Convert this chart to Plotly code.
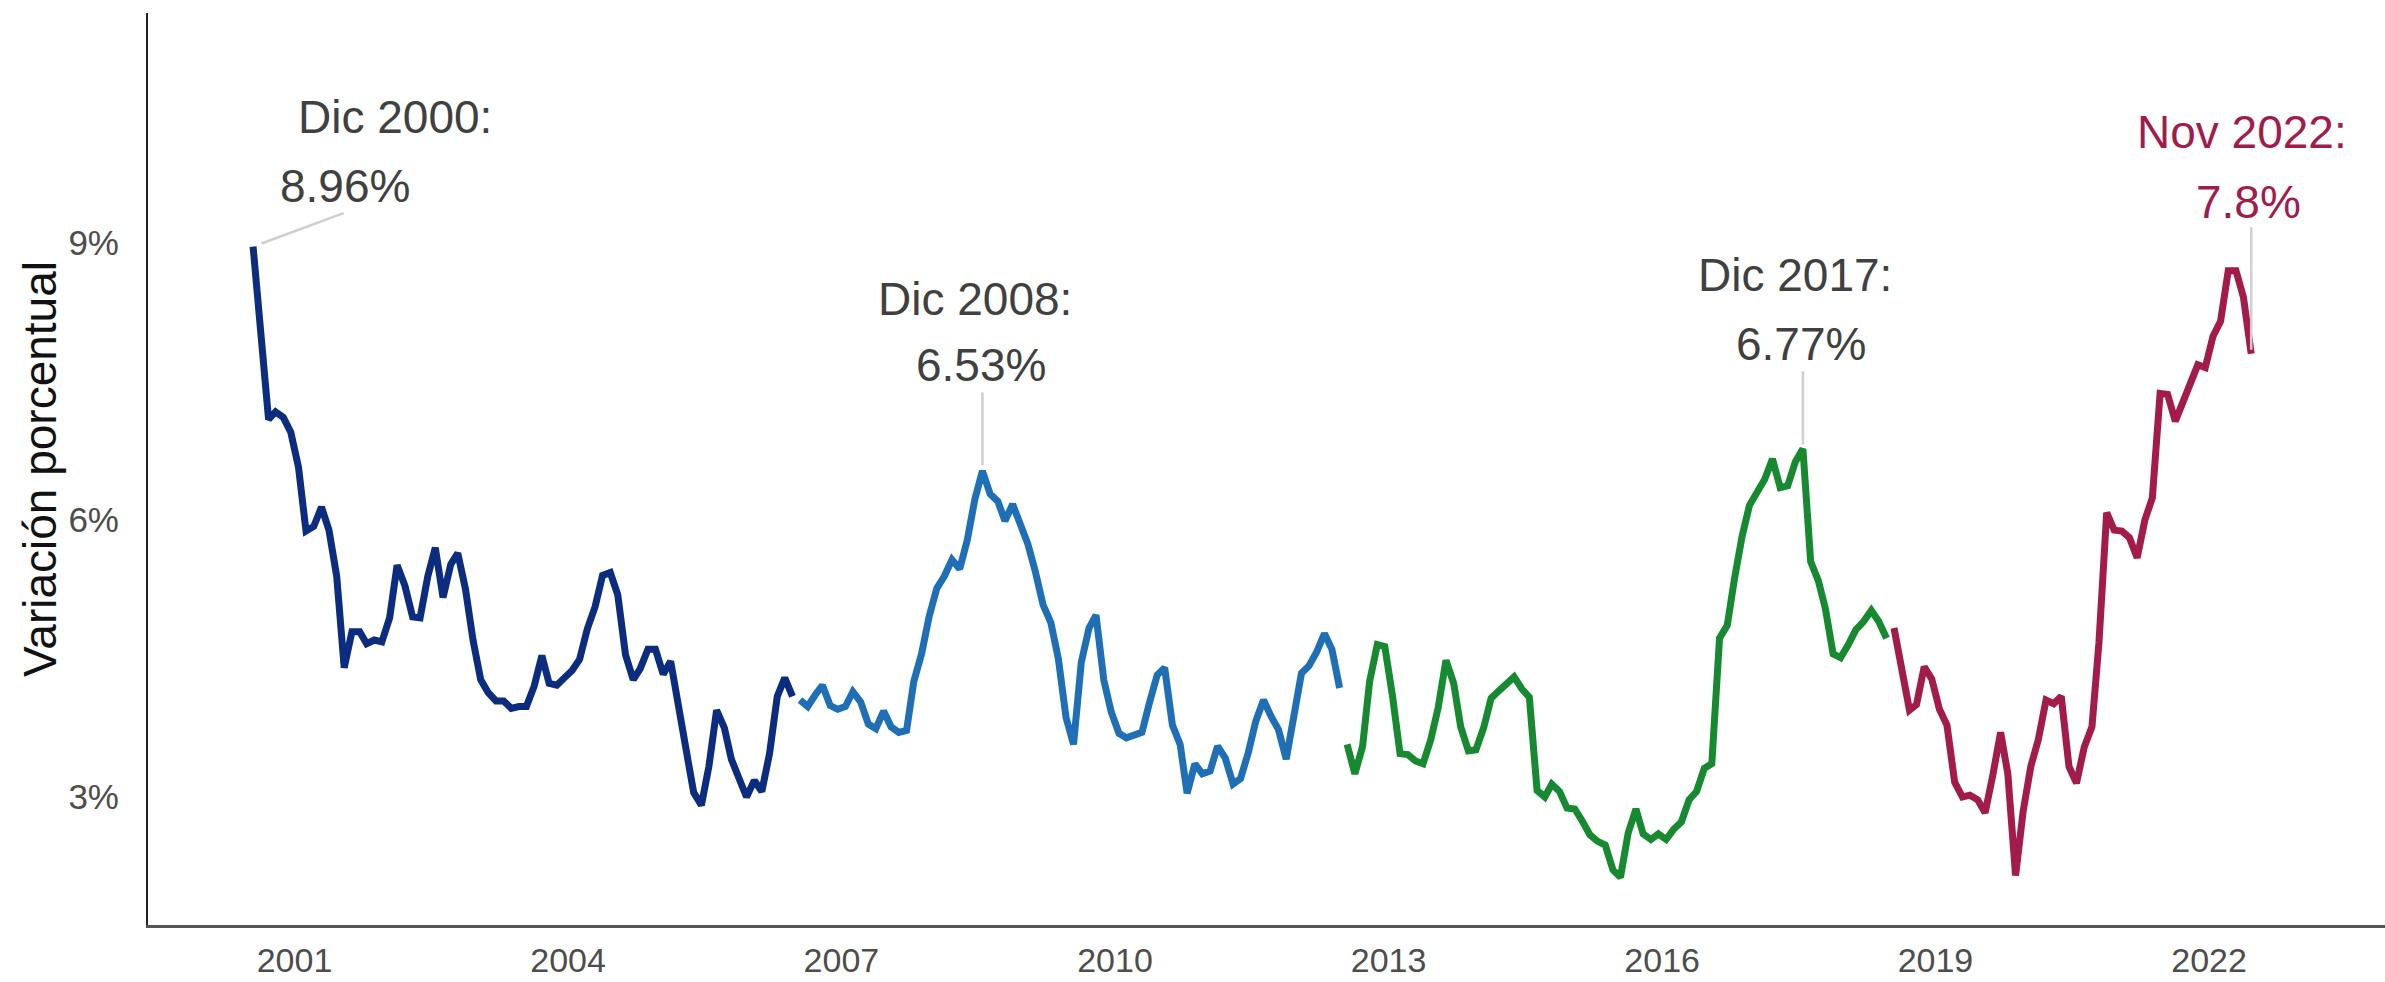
import plotly.graph_objects as go
import pandas as pd

# Annual inflation (INPC, % y/y), monthly, by administration
fox_start = "2000-12-01"
fox = [8.96,
       8.11, 7.09, 7.17, 7.11, 6.95, 6.57, 5.88, 5.93, 6.14, 5.89, 5.39, 4.40,
       4.79, 4.79, 4.66, 4.70, 4.68, 4.94, 5.51, 5.29, 4.95, 4.94, 5.39, 5.70,
       5.16, 5.52, 5.64, 5.25, 4.70, 4.27, 4.13, 4.04, 4.04, 3.96, 3.98, 3.98,
       4.20, 4.53, 4.23, 4.21, 4.29, 4.37, 4.49, 4.82, 5.06, 5.40, 5.43, 5.19,
       4.54, 4.27, 4.39, 4.60, 4.60, 4.33, 4.47, 3.95, 3.51, 3.05, 2.91, 3.33,
       3.94, 3.75, 3.41, 3.20, 3.00, 3.18, 3.06, 3.47, 4.09, 4.29, 4.09]

calderon_start = "2006-12-01"
calderon = [4.05,
            3.98, 4.11, 4.21, 3.99, 3.95, 3.98, 4.14, 4.03, 3.79, 3.74, 3.93, 3.76,
            3.70, 3.72, 4.25, 4.55, 4.95, 5.26, 5.39, 5.57, 5.47, 5.78, 6.23, 6.53,
            6.28, 6.20, 5.99, 6.17, 5.98, 5.74, 5.44, 5.08, 4.89, 4.50, 3.86, 3.57,
            4.46, 4.83, 4.97, 4.27, 3.92, 3.69, 3.64, 3.68, 3.70, 4.02, 4.32, 4.40,
            3.78, 3.57, 3.04, 3.36, 3.25, 3.28, 3.55, 3.42, 3.14, 3.20, 3.48, 3.82,
            4.05, 3.87, 3.73, 3.41, 3.85, 4.34, 4.42, 4.57, 4.77, 4.60, 4.18]

pena_start = "2012-12-01"
pena = [3.57,
        3.25, 3.55, 4.25, 4.65, 4.63, 4.09, 3.47, 3.46, 3.39, 3.36, 3.62, 3.97,
        4.48, 4.23, 3.76, 3.50, 3.51, 3.75, 4.07, 4.15, 4.22, 4.30, 4.17, 4.08,
        3.07, 3.00, 3.14, 3.06, 2.88, 2.87, 2.74, 2.59, 2.52, 2.48, 2.21, 2.13,
        2.61, 2.87, 2.60, 2.54, 2.60, 2.54, 2.65, 2.73, 2.97, 3.06, 3.31, 3.36,
        4.72, 4.86, 5.35, 5.82, 6.16, 6.31, 6.44, 6.66, 6.35, 6.37, 6.63, 6.77,
        5.55, 5.34, 5.04, 4.55, 4.51, 4.65, 4.81, 4.90, 5.02, 4.90, 4.72]

amlo_start = "2018-12-01"
amlo = [4.83,
        4.37, 3.94, 4.00, 4.41, 4.28, 3.95, 3.78, 3.16, 3.00, 3.02, 2.97, 2.83,
        3.24, 3.70, 3.25, 2.15, 2.84, 3.33, 3.62, 4.05, 4.01, 4.09, 3.33, 3.15,
        3.54, 3.76, 4.67, 6.08, 5.89, 5.88, 5.81, 5.59, 6.00, 6.24, 7.37, 7.36,
        7.07, 7.28, 7.45, 7.68, 7.65, 7.99, 8.15, 8.70, 8.70, 8.41, 7.80]

series_colors = ["#0b2c7f", "#1f6fb6", "#178a31", "#a31b4b"]

year_ticks = [2001, 2004, 2007, 2010, 2013, 2016, 2019, 2022]
y_ticks = [3, 6, 9]
y_tick_text = ["3%", "6%", "9%"]

# highlighted points: (date, value, line1, line2, color)
highlights = [
    ("2000-12-01", 8.96, "Dic 2000:", "8.96%", "#404040"),
    ("2008-12-01", 6.53, "Dic 2008:", "6.53%", "#404040"),
    ("2017-12-01", 6.77, "Dic 2017:", "6.77%", "#404040"),
    ("2022-11-01", 7.80, "Nov 2022:", "7.8%", "#a31b4b"),
]

FONT = "Liberation Sans, Arial, Helvetica, sans-serif"

fig = go.Figure()
for start, vals, col in zip([fox_start, calderon_start, pena_start, amlo_start],
                            [fox, calderon, pena, amlo], series_colors):
    dates = pd.date_range(start, periods=len(vals), freq="MS")
    fig.add_trace(go.Scatter(x=dates, y=vals, mode="lines",
                             line=dict(color=col, width=7),
                             showlegend=False, hoverinfo="skip"))

# label offsets in pixels (relative to point): line1 (dx, dy), line2 (dx, dy), leader (ax, ay, standoff)
label_offsets = [
    ((142, 130), (92, 61), (92, -34, 9)),
    ((-7, 172), (-1, 106), (0, -80, 6)),
    ((-8, 174), (-2, 105), (0, -79, 4)),
    ((-9, 222), (-3, 152), (0, -128, 4)),
]

annotations = []
for (d, v, t1, t2, c), (o1, o2, lead) in zip(highlights, label_offsets):
    annotations.append(dict(x=d, y=v, xref="x", yref="y", text="", showarrow=True,
                            arrowhead=0, arrowwidth=2.5, arrowcolor="#cfcfcf",
                            ax=lead[0], ay=lead[1], standoff=lead[2]))
    annotations.append(dict(x=d, y=v, xref="x", yref="y", text=t1, showarrow=False,
                            xanchor="center", yanchor="middle",
                            xshift=o1[0], yshift=o1[1],
                            font=dict(family=FONT, size=46, color=c)))
    annotations.append(dict(x=d, y=v, xref="x", yref="y", text=t2, showarrow=False,
                            xanchor="center", yanchor="middle",
                            xshift=o2[0], yshift=o2[1],
                            font=dict(family=FONT, size=46, color=c)))

annotations.append(dict(x=-0.0483, y=0.5, xref="paper", yref="paper",
                        text="Variación porcentual", textangle=-90, showarrow=False,
                        xanchor="center", yanchor="middle",
                        font=dict(family=FONT, size=46, color="#111111")))

fig.update_layout(
    width=2385, height=982,
    margin=dict(l=148, r=0, t=13, b=57, autoexpand=False),
    paper_bgcolor="white", plot_bgcolor="white",
    annotations=annotations,
    font=dict(family=FONT),
)
fig.update_xaxes(
    range=["1999-10-07", "2024-04-20"],
    tickvals=[f"{y}-05-16" for y in year_ticks],
    ticktext=[str(y) for y in year_ticks],
    showgrid=False, zeroline=False, ticks="", automargin=False,
    showline=True, linecolor="#555555", linewidth=3,
    tickfont=dict(family=FONT, size=34, color="#4d4d4d"),
    ticklabelstandoff=3,
)
fig.update_yaxes(
    range=[1.614, 11.49],
    tickvals=y_ticks, ticktext=y_tick_text,
    showgrid=False, zeroline=False, ticks="", automargin=False,
    showline=True, linecolor="#222222", linewidth=2,
    tickfont=dict(family=FONT, size=35, color="#4d4d4d"),
    ticklabelstandoff=20,
)

fig.write_html(
    "out.html",
    config={"displayModeBar": False},
    post_script="document.body.style.margin='0';document.body.style.overflow='hidden';",
)
